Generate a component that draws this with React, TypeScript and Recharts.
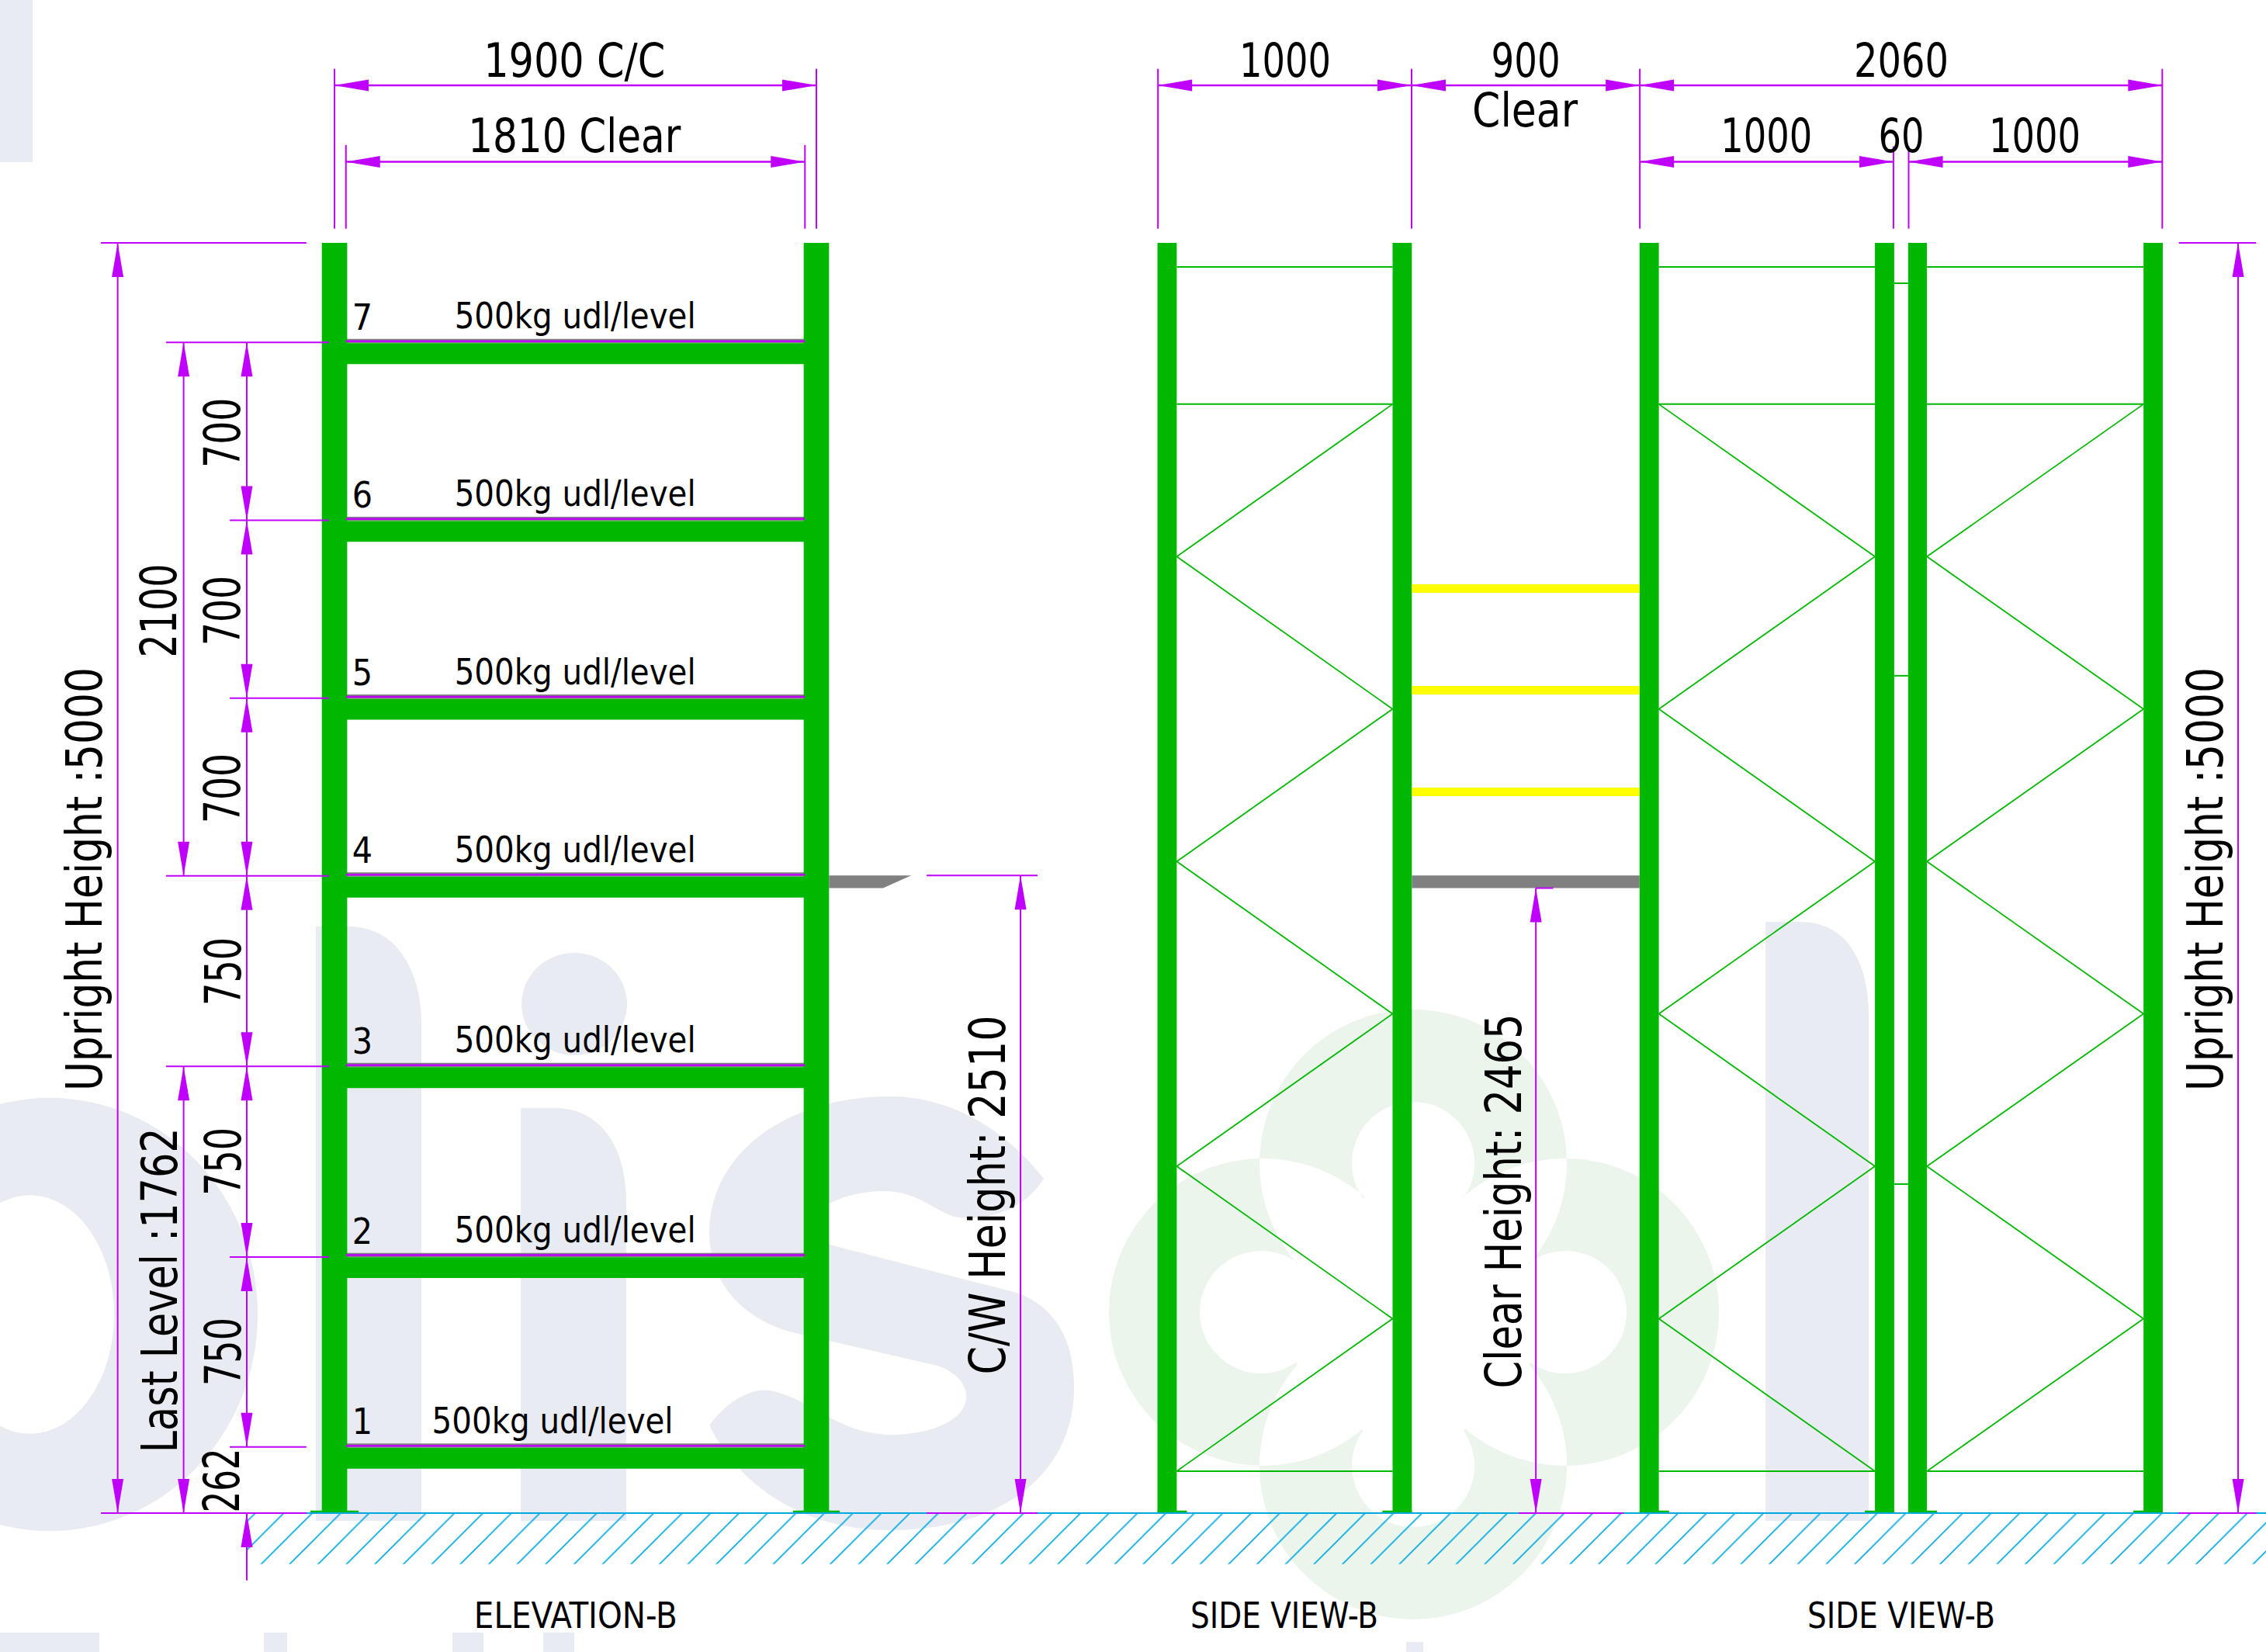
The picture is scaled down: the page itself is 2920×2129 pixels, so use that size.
import { ComposedChart, XAxis, YAxis, Line, Area, Scatter, ReferenceArea, ReferenceLine } from "recharts";

const W = 2920;
const H = 2129;
const X_DOMAIN = [-1319, 7616];
const Y_DOMAIN = [-547, 5956];

const PURPLE = "#bf00ff";
const GREEN = "#00b800";
const GREY = "#808080";
const YELLOW = "#ffff00";
const CYAN = "#00a8e0";
const WM_GREY = "#e8ebf2";
const WM_GREEN = "#ebf5ec";

// all values below in mm
const UPRIGHT_H = 5000;
const beamLevels = [260, 1010, 1758, 2508, 3208, 3908, 4608];
const levelNames = ["1", "2", "3", "4", "5", "6", "7"];
const elevationUprights = [[-50, 50], [1850, 1950]];
const frameUprights = [[3245, 3321], [4172, 4248], [5146, 5222], [6074, 6150], [6205, 6279], [7133, 7209]];
const basePlates = [[-95, 95], [1808, 1992], [3245, 3361], [4132, 4248], [5146, 5262], [6034, 6150], [6205, 6319], [7093, 7209]];
const frames = [[3321, 4172], [5222, 6074], [6279, 7133]];
const frameRails = [165, 4365, 4905];
const braceNodes = [165, 765, 1365, 1965, 2565, 3165, 3765, 4365];
const frameStartsLeft = [true, false, true];
const spacerHeights = [1295, 3296, 4841];
const yellowBeams = [3639, 3239, 2839];
const armShape = [
  { x: 1950, band: [2460, 2510] },
  { x: 2163, band: [2460, 2510] },
  { x: 2274, band: [2510, 2510] },
];

// [y, from, to] : arrows at both ends
const horizontalDims = [
  [5620, 0, 1900],
  [5319, 45, 1855],
  [5620, 3247, 4247],
  [5620, 4247, 5147],
  [5620, 5147, 7207],
  [5319, 5147, 6147],
  [5319, 6207, 7207],
];
// [x, low, high] : arrows at both ends
const verticalDims = [
  [-855, 0, 5000],
  [-595, 2508, 4608],
  [-595, 0, 1758],
  [-346, 3908, 4608],
  [-346, 3208, 3908],
  [-346, 2508, 3208],
  [-346, 1758, 2508],
  [-346, 1008, 1758],
  [-346, 260, 1008],
  [2705, 0, 2510],
  [4737, 0, 2460],
  [7506, 0, 5000],
];
// [x, low, high]
const extensionV = [
  [0, 5056, 5685], [1900, 5056, 5685], [45, 5056, 5385], [1855, 5056, 5385],
  [3247, 5056, 5685], [4247, 5056, 5685], [5147, 5056, 5685], [7207, 5056, 5685],
  [6147, 5056, 5380], [6207, 5056, 5380],
  [-346, -265, 0],
];
// [y, from, to]
const extensionH = [
  [5000, -921, -111], [4608, -664, -21], [3908, -413, -21], [3208, -413, -21], [2508, -664, -21],
  [1758, -664, -21], [1008, -413, -21], [260, -413, -111], [0, -921, -111], [0, -664, -111],
  [2510, 2335, 2772], [0, 2335, 2772], [2460, 4737, 4805], [0, 4670, 5083],
  [5000, 7272, 7577], [0, 7272, 7577],
];
const extraArrows = [{ x: -346, y: 0, dir: "up" }];

const DIM_LABELS = [
  { x: 946, y: 5654, label: "1900 C/C", len: 234, size: 60 },
  { x: 946, y: 5357, label: "1810 Clear", len: 274, size: 60 },
  { x: 3748, y: 5655, label: "1000", len: 118, size: 60 },
  { x: 4697, y: 5655, label: "900", len: 89, size: 60 },
  { x: 4694, y: 5458, label: "Clear", len: 136, size: 60 },
  { x: 6178, y: 5655, label: "2060", len: 122, size: 60 },
  { x: 5646, y: 5357, label: "1000", len: 118, size: 60 },
  { x: 6178, y: 5357, label: "60", len: 59, size: 60 },
  { x: 6704, y: 5357, label: "1000", len: 118, size: 60 },
  { x: 951, y: -452, label: "ELEVATION-B", len: 262, size: 46 },
  { x: 3745, y: -452, label: "SIDE VIEW-B", len: 242, size: 46 },
  { x: 6178, y: -452, label: "SIDE VIEW-B", len: 242, size: 46 },
  { x: -918, y: 2495, label: "Upright Height :5000", len: 546, size: 64, rot: true },
  { x: 7445, y: 2495, label: "Upright Height :5000", len: 546, size: 64, rot: true },
  { x: -624, y: 3552, label: "2100", len: 121, size: 64, rot: true },
  { x: -373, y: 4252, label: "700", len: 90, size: 64, rot: true },
  { x: -373, y: 3552, label: "700", len: 90, size: 64, rot: true },
  { x: -373, y: 2853, label: "700", len: 90, size: 64, rot: true },
  { x: -370, y: 2132, label: "750", len: 88, size: 64, rot: true },
  { x: -370, y: 1384, label: "750", len: 88, size: 64, rot: true },
  { x: -370, y: 635, label: "750", len: 88, size: 64, rot: true },
  { x: -376, y: 128, label: "262", len: 83, size: 64, rot: true },
  { x: -621, y: 877, label: "Last Level :1762", len: 419, size: 64, rot: true },
  { x: 2644, y: 1252, label: "C/W Height: 2510", len: 463, size: 64, rot: true },
  { x: 4679, y: 1228, label: "Clear Height: 2465", len: 483, size: 64, rot: true },
];

const levelLabels = beamLevels.map((lv, i) => ({ x: 110, y: lv + 50, label: levelNames[i], len: 0, size: 46 }));
const loadLabels = beamLevels.map((lv, i) => ({ x: i === 0 ? 860 : 949, y: lv + 55, label: "500kg udl/level", len: 311, size: 46 }));
const allLabels = [...DIM_LABELS, ...levelLabels, ...loadLabels];

const arrows = [
  ...horizontalDims.flatMap(([y, a, b]) => [{ x: a, y, dir: "left" }, { x: b, y, dir: "right" }]),
  ...verticalDims.flatMap(([x, a, b]) => [{ x, y: a, dir: "down" }, { x, y: b, dir: "up" }]),
  ...extraArrows,
];

const ArrowHead = ({ cx, cy, payload }: any) => {
  const L = 44;
  const w = 7.5;
  const pts: Record<string, number[]> = {
    left: [cx + L, cy - w, cx + L, cy + w],
    right: [cx - L, cy - w, cx - L, cy + w],
    up: [cx - w, cy + L, cx + w, cy + L],
    down: [cx - w, cy - L, cx + w, cy - L],
  };
  const p = pts[payload.dir];
  return <polygon points={`${cx},${cy} ${p[0]},${p[1]} ${p[2]},${p[3]}`} fill={PURPLE} />;
};

const DrawingText = ({ cx, cy, payload }: any) => (
  <text
    x={cx}
    y={cy}
    textAnchor="middle"
    fontFamily="'DejaVu Sans'"
    fontSize={payload.size}
    style={{ fontStretch: "condensed" }}
    fill="#000"
    textLength={payload.len || undefined}
    lengthAdjust="spacingAndGlyphs"
    transform={payload.rot ? `rotate(-90 ${cx} ${cy})` : undefined}
  >
    {payload.label}
  </text>
);

const circle = (x: number, y: number, r: number) => `M${x - r},${y}a${r},${r} 0 1,0 ${r * 2},0a${r},${r} 0 1,0 ${-r * 2},0Z`;

// background logo letters, drawn relative to the drawing origin
const Watermark = ({ cx, cy }: any) => (
  <g transform={`translate(${cx - 431} ${cy - 1950})`}>
    <rect x={0} y={0} width={42} height={209} fill={WM_GREY} />
    <path d="M-204,1694a268,279 0 1,0 536,0a268,279 0 1,0 -536,0Z M-70,1694a108,153 0 1,0 217,0a108,153 0 1,0 -217,0Z" fill={WM_GREY} fillRule="evenodd" />
    <path d="M407,1194 L450,1194 C510,1194 543,1250 543,1320 L543,1960 L407,1960 Z" fill={WM_GREY} />
    <path d="M671,1428 L715,1428 C775,1428 807,1480 807,1550 L807,1960 L671,1960 Z" fill={WM_GREY} />
    <ellipse cx={740} cy={1294} rx={68} ry={66} fill={WM_GREY} />
    <path
      d="M1345,1519 C1290,1450 1220,1413 1147,1413 C1010,1413 914,1490 914,1588 C914,1660 965,1705 1029,1719 L1208,1760 C1235,1770 1245,1785 1245,1800 C1245,1830 1200,1849 1147,1849 C1080,1849 1040,1800 992,1792 C960,1788 930,1815 914,1837 C950,1910 1030,1972 1147,1972 C1290,1972 1384,1900 1384,1788 C1384,1715 1350,1680 1310,1666 L1069,1604 C1050,1595 1049,1560 1069,1551 C1090,1540 1115,1535 1139,1535 C1180,1535 1205,1560 1229,1568 C1270,1575 1320,1560 1345,1519 Z"
      fill={WM_GREY}
    />
    <path d="M2275,1188 L2320,1188 C2380,1188 2408,1240 2408,1310 L2408,1960 L2275,1960 Z" fill={WM_GREY} />
    <rect x={0} y={2104} width={128} height={25} fill={WM_GREY} />
    <rect x={340} y={2104} width={30} height={25} fill={WM_GREY} />
    <rect x={583} y={2104} width={40} height={25} fill={WM_GREY} />
    <rect x={700} y={2104} width={40} height={25} fill={WM_GREY} />
    <rect x={1812} y={2116} width={22} height={13} fill={WM_GREY} />
    <path
      fillRule="evenodd"
      fill={WM_GREEN}
      d={[
        circle(1821, 1499, 198),
        circle(1627, 1691, 198),
        circle(2017, 1691, 198),
        circle(1821, 1889, 198),
        circle(1821, 1499, 79),
        circle(1625, 1691, 79),
        circle(2017, 1691, 79),
        circle(1821, 1889, 79),
      ].join(" ")}
    />
    <circle cx={1821} cy={1694} r={163} fill="#fff" />
  </g>
);

const axes = [
  <XAxis key="x" type="number" dataKey="x" domain={X_DOMAIN} hide allowDataOverflow />,
  <YAxis key="y" type="number" dataKey="y" domain={Y_DOMAIN} hide allowDataOverflow />,
];
const MARGIN = { top: 0, right: 0, bottom: 0, left: 0 };
const layer = { position: "absolute", left: 0, top: 0 } as const;

const rects = (spans: number[][], y1: number, y2: number, fill: string, id: string) =>
  spans.map(([a, b], i) => (
    <ReferenceArea key={`${id}${i}`} x1={a} x2={b} y1={y1} y2={y2} fill={fill} fillOpacity={1} stroke="none" />
  ));

const App = () => (
  <div style={{ position: "absolute", left: 0, top: 0, width: W, height: H, background: "#fff", overflow: "hidden" }}>
    <div style={layer}>
      <ComposedChart width={W} height={H} margin={MARGIN}>
        {axes}
        <Scatter data={[{ x: 0, y: 0 }]} shape={Watermark} isAnimationActive={false} />
      </ComposedChart>
    </div>
    <div style={layer}>
      <ComposedChart width={W} height={H} margin={MARGIN}>
        <defs>
          <pattern id="hatch" width={36.67} height={36.67} patternUnits="userSpaceOnUse" patternTransform="translate(5.46 0)">
            <path d="M-1,1 L1,-1 M0,36.67 L36.67,0 M35.67,37.67 L37.67,35.67" stroke={CYAN} strokeWidth={1.6} fill="none" />
          </pattern>
        </defs>
        {axes}

        <ReferenceArea x1={-346} x2={X_DOMAIN[1]} y1={-201} y2={0} fill="url(#hatch)" fillOpacity={1} stroke="none" />

        {/* level decks and beams */}
        {beamLevels.map((lv) => (
          <ReferenceArea key={`d${lv}`} x1={45} x2={1855} y1={lv - 3} y2={lv + 14} fill={GREY} fillOpacity={1} stroke="none" />
        ))}
        {beamLevels.map((lv) => (
          <ReferenceArea key={`b${lv}`} x1={0} x2={1900} y1={lv - 85} y2={lv - 3} fill={GREEN} fillOpacity={1} stroke="none" />
        ))}
        {rects(elevationUprights, 0, UPRIGHT_H, GREEN, "eu")}
        {rects(frameUprights, 0, UPRIGHT_H, GREEN, "fu")}
        {rects(basePlates, 0, 10, GREEN, "bp")}

        {/* cross aisle beams */}
        {yellowBeams.map((y) => (
          <ReferenceArea key={`y${y}`} x1={4248} x2={5146} y1={y - 17} y2={y + 17} fill={YELLOW} fillOpacity={1} stroke="none" />
        ))}
        <ReferenceArea x1={4248} x2={5146} y1={2460} y2={2510} fill={GREY} fillOpacity={1} stroke="none" />
        <Area data={armShape} dataKey="band" type="linear" fill={GREY} fillOpacity={1} stroke="none" dot={false} isAnimationActive={false} />

        {/* frame bracing */}
        {frames.flatMap(([a, b], f) =>
          frameRails.map((y) => (
            <ReferenceLine key={`r${f}${y}`} segment={[{ x: a, y }, { x: b, y }]} stroke={GREEN} strokeWidth={2} />
          ))
        )}
        {frames.map(([a, b], f) => (
          <Line
            key={`z${f}`}
            data={braceNodes.map((y, i) => ({ x: (i % 2 === 0) === frameStartsLeft[f] ? a : b, y }))}
            dataKey="y"
            type="linear"
            stroke={GREEN}
            strokeWidth={1.8}
            dot={false}
            isAnimationActive={false}
          />
        ))}
        {spacerHeights.map((y) => (
          <ReferenceLine key={`s${y}`} segment={[{ x: 6150, y }, { x: 6205, y }]} stroke={GREEN} strokeWidth={2} />
        ))}

        <ReferenceLine segment={[{ x: -346, y: 0 }, { x: X_DOMAIN[1], y: 0 }]} stroke={CYAN} strokeWidth={2} />

        {/* dimension lines */}
        {beamLevels.map((lv) => (
          <ReferenceLine key={`p${lv}`} segment={[{ x: 45, y: lv + 5 }, { x: 1855, y: lv + 5 }]} stroke={PURPLE} strokeWidth={2.5} />
        ))}
        {horizontalDims.map(([y, a, b], i) => (
          <ReferenceLine key={`hd${i}`} segment={[{ x: a, y }, { x: b, y }]} stroke={PURPLE} strokeWidth={2.5} />
        ))}
        {verticalDims.map(([x, a, b], i) => (
          <ReferenceLine key={`vd${i}`} segment={[{ x, y: a }, { x, y: b }]} stroke={PURPLE} strokeWidth={2} />
        ))}
        {extensionV.map(([x, a, b], i) => (
          <ReferenceLine key={`ev${i}`} segment={[{ x, y: a }, { x, y: b }]} stroke={PURPLE} strokeWidth={2} />
        ))}
        {extensionH.map(([y, a, b], i) => (
          <ReferenceLine key={`eh${i}`} segment={[{ x: a, y }, { x: b, y }]} stroke={PURPLE} strokeWidth={2} />
        ))}

        <Scatter data={arrows} shape={ArrowHead} isAnimationActive={false} />
        <Scatter data={allLabels} shape={DrawingText} isAnimationActive={false} />
      </ComposedChart>
    </div>
  </div>
);

export default App;
